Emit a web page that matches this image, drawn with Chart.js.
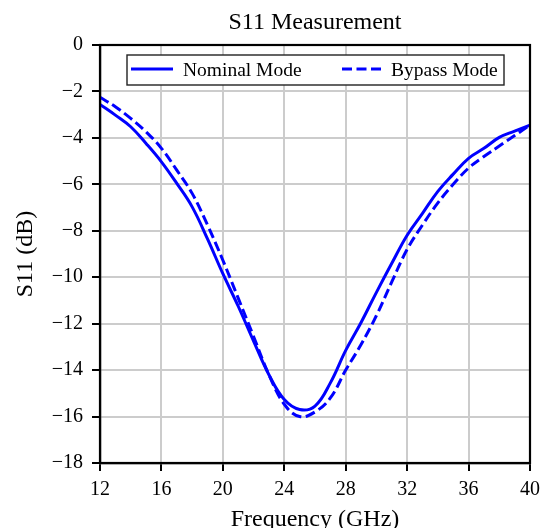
<!DOCTYPE html>
<html>
<head>
<meta charset="utf-8">
<script src="https://cdn.jsdelivr.net/npm/chart.js@4/dist/chart.umd.min.js"></script>
<style>
html,body{margin:0;padding:0;background:#fff;}
#wrap{width:544px;height:528px;}
</style>
</head>
<body>
<div id="wrap"><canvas id="c" width="544" height="528"></canvas></div>
<script>
// Frequency points (GHz)
const freqGHz = [12,13,14,15,16,17,18,19,20,21,22,23,24,25,26,27,28,29,30,31,32,33,34,35,36,37,38,39,40];
// S11 (dB) - Nominal Mode
const nominalDb = [-2.56,-3.02,-3.52,-4.24,-5.03,-5.96,-6.97,-8.35,-9.85,-11.25,-12.75,-14.2,-15.27,-15.7,-15.55,-14.55,-13.15,-11.95,-10.65,-9.4,-8.19,-7.25,-6.3,-5.56,-4.88,-4.45,-3.98,-3.71,-3.45];
// S11 (dB) - Bypass Mode
const bypassDb = [-2.25,-2.66,-3.16,-3.74,-4.45,-5.39,-6.39,-7.75,-9.27,-10.9,-12.55,-14.2,-15.47,-16.0,-15.8,-15.2,-14.0,-12.9,-11.65,-10.2,-8.8,-7.75,-6.8,-6.0,-5.3,-4.8,-4.35,-3.9,-3.45];
const seriesLabels = ['Nominal Mode','Bypass Mode'];
const xTickStep = 4, yTickStep = 2;
const titleText = 'S11 Measurement';
const xTitle = 'Frequency (GHz)';
const yTitle = 'S11 (dB)';

const FONT = "'Liberation Serif','Times New Roman',serif";
const BLUE = '#0000ff';

const toPts = (ys) => freqGHz.map((x,i)=>({x:x,y:ys[i]}));

const decor = {
  id:'decor',
  afterDraw(chart){
    const ctx = chart.ctx, a = chart.chartArea;
    ctx.save();
    // frame
    ctx.strokeStyle = '#000'; ctx.lineWidth = 2.2;
    ctx.strokeRect(a.left, a.top, a.right-a.left, a.bottom-a.top);
    // title
    ctx.fillStyle = '#000';
    ctx.font = "24px " + FONT;
    ctx.textAlign = 'center'; ctx.textBaseline = 'alphabetic';
    const cx = (a.left + a.right)/2;
    ctx.fillText(titleText, cx, 29);
    ctx.fillText(xTitle, cx, 526);
    ctx.save();
    ctx.translate(31.5, (a.top + a.bottom)/2);
    ctx.rotate(-Math.PI/2);
    ctx.fillText(yTitle, 0, 0);
    ctx.restore();
    // legend
    const bx = 127, by = 55, bw = 377, bh = 30;
    ctx.fillStyle = '#fff';
    ctx.fillRect(bx, by, bw, bh);
    ctx.strokeStyle = '#222'; ctx.lineWidth = 1.4;
    ctx.strokeRect(bx, by, bw, bh);
    const ly = 69;
    const items = [{x0:131,x1:173,tx:183,dash:[]},{x0:342,x1:382,tx:391,dash:[10,4.5]}];
    items.forEach((it,i)=>{
      const ds = chart.data.datasets[i];
      ctx.strokeStyle = ds.borderColor; ctx.lineWidth = ds.borderWidth;
      ctx.setLineDash(it.dash);
      ctx.beginPath(); ctx.moveTo(it.x0, ly); ctx.lineTo(it.x1, ly); ctx.stroke();
      ctx.setLineDash([]);
      ctx.fillStyle = '#000';
      ctx.font = "19.5px " + FONT;
      ctx.textAlign = 'left'; ctx.textBaseline = 'alphabetic';
      ctx.fillText(ds.label, it.tx, 75.5);
    });
    ctx.restore();
  }
};

const fmt = (v) => (v < 0 ? '\u2212' + Math.abs(v) : String(v));

new Chart(document.getElementById('c'), {
  type:'line',
  data:{
    datasets:[
      {label:seriesLabels[0], data:toPts(nominalDb), borderColor:BLUE, borderWidth:3, pointRadius:0, fill:false, tension:0.4},
      {label:seriesLabels[1], data:toPts(bypassDb), borderColor:BLUE, borderWidth:3, borderDash:[10,4.5], pointRadius:0, fill:false, tension:0.4}
    ]
  },
  options:{
    responsive:false,
    animation:false,
    devicePixelRatio:1,
    layout:{padding:{top:45,right:14,bottom:0,left:0}},
    plugins:{legend:{display:false}, title:{display:false}, tooltip:{enabled:false}},
    scales:{
      x:{
        type:'linear', min:freqGHz[0], max:freqGHz[freqGHz.length-1],
        ticks:{stepSize:xTickStep, color:'#000', font:{family:FONT, size:20}, padding:7, maxRotation:0, callback:fmt},
        grid:{color:'#cccccc', lineWidth:2, tickLength:8, tickColor:'#000', tickWidth:2},
        border:{display:true, color:'#000', width:2.2},
        afterFit(s){ s.height = 65; s.paddingLeft = 0; s.paddingRight = 0; }
      },
      y:{
        min:-18, max:0,
        ticks:{stepSize:yTickStep, color:'#000', font:{family:FONT, size:20}, padding:9, callback:fmt},
        grid:{color:'#cccccc', lineWidth:2, tickLength:8, tickColor:'#000', tickWidth:2},
        border:{display:true, color:'#000', width:2.2},
        afterFit(s){ s.width = 100; s.paddingTop = 0; s.paddingBottom = 0; }
      }
    }
  },
  plugins:[decor]
});
</script>
</body>
</html>
